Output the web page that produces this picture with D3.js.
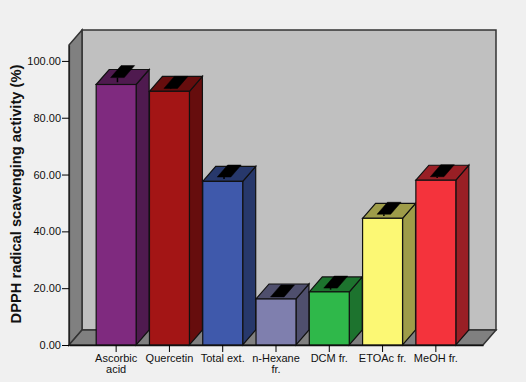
<!DOCTYPE html>
<html>
<head>
<meta charset="utf-8">
<script src="https://cdn.jsdelivr.net/npm/d3@7"></script>
<style>
    html, body { margin: 0; padding: 0; background: #f0f0f0; }
    svg { display: block; }
    text { font-family: "Liberation Sans", Arial, sans-serif; fill: #111; }
</style>
</head>
<body>
<svg id="chart" width="526" height="382"></svg>
<script>
var categories = [['Ascorbic', 'acid'], ['Quercetin'], ['Total ext.'], ['n-Hexane', 'fr.'], ['DCM fr.'], ['ETOAc fr.'], ['MeOH fr.']];
var values = [91.7, 89.3, 57.6, 16.2, 18.7, 44.6, 58.0];
var errors = [1.9, 0.5, 1.0, 0.2, 0.8, 0.9, 0.7];
var frontColors = ['#7f2a7f', '#a31515', '#3f59ab', '#7f7fae', '#2fb84a', '#fcf874', '#f4333c'];
var sideColors = ['#4f1a4f', '#660d0d', '#27386b', '#4f4f6d', '#1d732e', '#9e9c49', '#991f25'];
var yTicks = [0, 20, 40, 60, 80, 100];

var svg = d3.select('#chart');
var dx = 13, dy = -15;

var x = d3.scaleBand()
    .domain(d3.range(categories.length))
    .range([69, 483])
    .paddingInner(0.25)
    .paddingOuter(0.51);
var y = d3.scaleLinear().domain([0, 105.6]).range([345, 45]);

// project a point at some depth (0 = front, 1 = back)
var pt = function (px, py, d) {
    return [px + dx * d, py + dy * d];
};
var poly = function (pts) {
    return pts.map(function (p) { return p.join(','); }).join(' ');
};

var x0 = x.range()[0], x1 = x.range()[1], y0 = y(0), yT = y.range()[1];
var edge = '#333';

// back wall, left wall, floor
svg.append('polygon')
    .attr('points', poly([pt(x0, y0, 1), pt(x0, yT, 1), pt(x1, yT, 1), pt(x1, y0, 1)]))
    .attr('fill', '#c0c0c0').attr('stroke', edge).attr('stroke-width', 1.5);
svg.append('polygon')
    .attr('points', poly([pt(x0, y0, 0), pt(x0, yT, 0), pt(x0, yT, 1), pt(x0, y0, 1)]))
    .attr('fill', '#808080').attr('stroke', edge).attr('stroke-width', 1.5);
svg.append('polygon')
    .attr('points', poly([pt(x0, y0, 0), pt(x0, y0, 1), pt(x1, y0, 1), pt(x1, y0, 0)]))
    .attr('fill', '#808080').attr('stroke', edge).attr('stroke-width', 1.5);

// bars
var bars = svg.selectAll('g.bar')
    .data(values)
    .enter().append('g')
    .attr('class', 'bar');

bars.append('polygon')
    .attr('points', function (d, i) {
        var l = x(i) + x.bandwidth();
        return poly([pt(l, y0, 0), pt(l, y(d), 0), pt(l, y(d), 1), pt(l, y0, 1)]);
    })
    .attr('fill', function (d, i) { return sideColors[i]; })
    .attr('stroke', '#111').attr('stroke-width', 1.2);
bars.append('polygon')
    .attr('points', function (d, i) {
        var l = x(i), r = l + x.bandwidth();
        return poly([pt(l, y(d), 0), pt(l, y(d), 1), pt(r, y(d), 1), pt(r, y(d), 0)]);
    })
    .attr('fill', function (d, i) { return sideColors[i]; })
    .attr('stroke', '#111').attr('stroke-width', 1.2);
bars.append('rect')
    .attr('x', function (d, i) { return x(i); })
    .attr('y', function (d) { return y(d); })
    .attr('width', x.bandwidth())
    .attr('height', function (d) { return y0 - y(d); })
    .attr('fill', function (d, i) { return frontColors[i]; })
    .attr('stroke', '#111').attr('stroke-width', 1.2);

// error bars: small stem and a flat black cap
bars.append('line')
    .attr('x1', function (d, i) { return x(i) + x.bandwidth() / 2 + dx * 0.1; })
    .attr('x2', function (d, i) { return x(i) + x.bandwidth() / 2 + dx * 0.1; })
    .attr('y1', function (d) { return y(d) + dy * 0.15; })
    .attr('y2', function (d, i) { return y(d + errors[i]) + dy * 0.1; })
    .attr('stroke', '#000').attr('stroke-width', 1.5);
bars.append('polygon')
    .attr('points', function (d, i) {
        var c = x(i) + x.bandwidth() / 2, v = y(d + errors[i]);
        return poly([pt(c - 6.8, v, 0.1), pt(c - 6.8, v, 0.9), pt(c + 6.8, v, 0.9), pt(c + 6.8, v, 0.1)]);
    })
    .attr('fill', '#000').attr('stroke', '#000').attr('stroke-width', 0.5);

// axes
var yAxis = d3.axisLeft(y).tickValues(yTicks).tickFormat(d3.format('.2f')).tickSize(7).tickPadding(1).tickSizeOuter(0);
var yG = svg.append('g').attr('transform', 'translate(' + x0 + ',0)').call(yAxis);
yG.selectAll('text').attr('font-size', 11);
yG.select('.domain').attr('stroke', '#222').attr('stroke-width', 1.2);

var xAxis = d3.axisBottom(x).tickSize(7).tickSizeOuter(0).tickFormat('');
var xG = svg.append('g').attr('transform', 'translate(0,' + y0 + ')').call(xAxis);
xG.select('.domain').attr('stroke', '#111').attr('stroke-width', 1.5);
xG.selectAll('.tick').each(function (d) {
    var t = d3.select(this).select('text').text(null).attr('font-size', 11).attr('y', 17);
    categories[d].forEach(function (s, k) {
        t.append('tspan').attr('x', 0).attr('dy', k ? 11 : 0).text(s);
    });
});

svg.append('text')
    .attr('transform', 'translate(21,194) rotate(-90)')
    .attr('text-anchor', 'middle')
    .attr('font-size', 14.7)
    .attr('font-weight', 'bold')
    .text('DPPH radical scavenging activity (%)');
</script>
</body>
</html>
